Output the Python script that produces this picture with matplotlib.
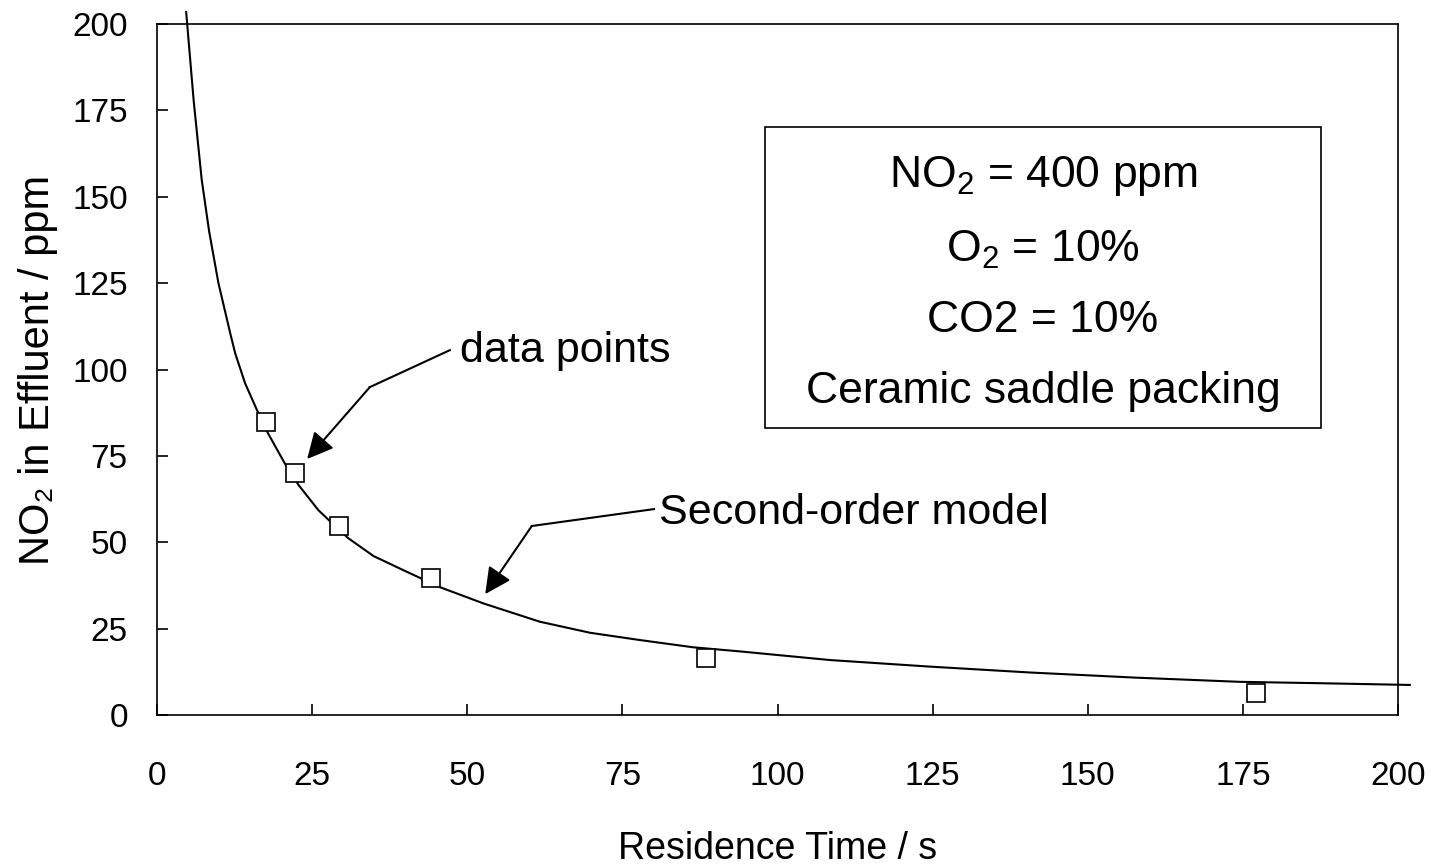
import matplotlib
matplotlib.use("Agg")
import matplotlib.pyplot as plt
from matplotlib.patches import Rectangle

plt.rcParams["font.family"] = ["Liberation Sans", "DejaVu Sans"]
plt.rcParams["mathtext.fontset"] = "custom"
plt.rcParams["mathtext.rm"] = "Liberation Sans"
plt.rcParams["mathtext.it"] = "Liberation Sans:italic"

# measured points
time_s = [17.6, 22.2, 29.3, 44.2, 88.4, 177.1]
no2_ppm = [84.7, 70.0, 54.8, 39.6, 16.5, 6.5]

# second-order model curve
model_t = [4.7, 5.9, 7.2, 8.4, 9.9, 11.8, 12.6, 14.2, 16.1, 17.9, 20.6, 22.8, 26.0,
           27.7, 30.8, 34.9, 40.2, 45.6, 52.6, 61.7, 69.8, 77.8, 86.4, 94.0, 108.5,
           124.6, 140.7, 157.9, 174.5, 187.4, 201.9]
model_c = [203.5, 178.0, 155.0, 140.0, 125.0, 110.5, 104.7, 96.0, 88.3, 81.5, 72.8, 66.6, 59.3,
           56.4, 51.2, 46.0, 41.5, 37.0, 32.3, 27.0, 23.8, 21.7, 19.6, 18.4, 15.9,
           14.0, 12.3, 10.8, 9.6, 9.2, 8.7]

ticks = [0, 25, 50, 75, 100, 125, 150, 175, 200]
box_lines = [r"NO$_2$ = 400 ppm", r"O$_2$ = 10%", "CO2 = 10%", "Ceramic saddle packing"]

fig = plt.figure(figsize=(14.31, 8.64), dpi=100)
ax = fig.add_axes([157 / 1431, 1 - 715 / 864, 1241 / 1431, 691 / 864])

ax.plot(model_t, model_c, color="black", lw=1.5, clip_on=False, zorder=2)
ax.plot(time_s, no2_ppm, ls="none", marker="s", ms=13.5, mfc="white", mec="black",
        mew=1.2, zorder=3, clip_on=False)

ax.set_xlim(0, 200)
ax.set_ylim(0, 200)
ax.set_xticks(ticks)
ax.set_yticks(ticks)
ax.tick_params(axis="both", direction="in", length=8, width=1.2, labelsize=24)
ax.tick_params(axis="x", pad=33)
ax.tick_params(axis="y", pad=21)
for s in ax.spines.values():
    s.set_linewidth(1.2)

ax.set_xlabel("Residence Time / s", fontsize=27, labelpad=28)
ax.set_ylabel("NO₂ in Effluent / ppm", fontsize=30, labelpad=10)

# condition box
ax.add_patch(Rectangle((0.490, 0.415), 0.448, 0.436, transform=ax.transAxes,
                       fill=False, ec="black", lw=1.2, zorder=4))
for txt, yb in zip(box_lines, [0.764, 0.656, 0.554, 0.4515]):
    ax.text(0.714, yb, txt, transform=ax.transAxes, ha="center", va="baseline",
            fontsize=32, zorder=5)

# callouts: text, elbow line, arrow
arrow_kw = dict(arrowstyle="-|>,head_length=0.8,head_width=0.4", color="black",
                lw=1.5, shrinkA=0, shrinkB=0, mutation_scale=20)

ax.text(48.8, 102.2, "data points", fontsize=31, va="baseline")
ax.plot([47.2, 34.3], [105.6, 94.9], color="black", lw=1.5, clip_on=False)
ax.annotate("", xy=(24.2, 74.1), xytext=(34.3, 94.9), arrowprops=arrow_kw)

ax.text(80.9, 55.3, "Second-order model", fontsize=31, va="baseline")
ax.plot([80.1, 60.4], [59.6, 54.7], color="black", lw=1.5, clip_on=False)
ax.annotate("", xy=(52.9, 35.0), xytext=(60.4, 54.7), arrowprops=arrow_kw)

fig.savefig("out.png", dpi=100)
